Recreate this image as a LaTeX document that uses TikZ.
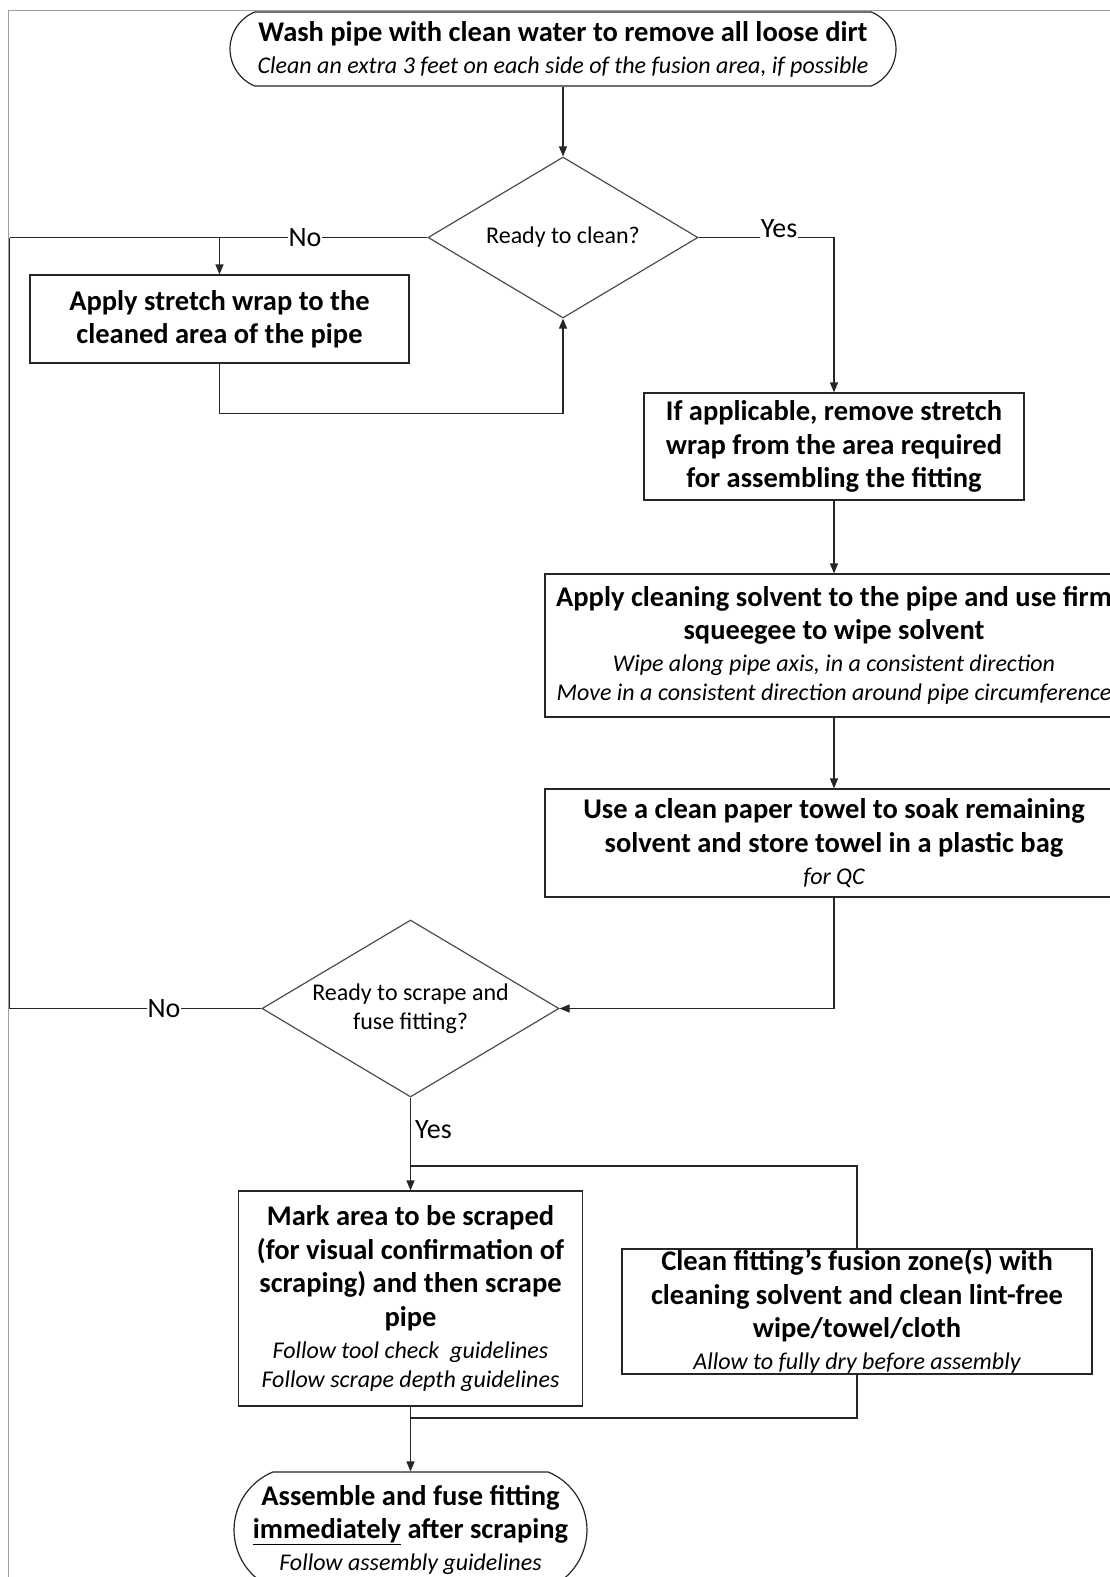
\documentclass[tikz,border=0pt]{standalone}
\usepackage{fontspec}
\setmainfont{Carlito}
\usetikzlibrary{arrows.meta,shapes.geometric,shapes.misc}
\newcommand{\fbold}{\fontsize{28.5}{33.5}\selectfont\bfseries}
\newcommand{\fital}[1]{{\fontsize{24}{29}\selectfont\mdseries\itshape #1}}
\newcommand{\fdia}{\fontsize{24}{28.5}\selectfont}
\newcommand{\flab}{\fontsize{28}{30}\selectfont}
\begin{document}
\begin{tikzpicture}[x=1pt,y=-1pt,
  ln/.style={line width=1.2pt, draw=black!85},
  arr/.style={ln,-{Triangle[length=10pt,width=8pt]}},
  box/.style={draw=black!85, line width=1.2pt, rectangle, align=center, inner sep=0pt, font=\fbold},
  term/.style={draw=black!85, line width=1.2pt, rounded rectangle, rounded rectangle arc length=135, align=center, inner sep=0pt, font=\fbold},
  dec/.style={draw=black!70, line width=1.2pt, diamond, inner sep=0pt},
  dectext/.style={align=center, inner sep=0pt, font=\fdia},
  lab/.style={fill=white, inner sep=1pt, font=\flab},
]
\useasboundingbox (0,0) rectangle (1110,1577);
\clip (0,0) rectangle (1110,1577);
\fill[white] (0,0) rectangle (1110,1577);
\draw[gray!75, line width=1.5pt] (8.5,1577) -- (8.5,10.5) -- (1110,10.5);

\node[term, minimum width=666pt, minimum height=74pt] (top) at (563,49)
  {Wash pipe with clean water to remove all loose dirt\\[-1.5pt]\fital{Clean an extra 3 feet on each side of the fusion area, if possible}};
\node[dec, minimum width=270pt, minimum height=161pt] (d1) at (563,237.5) {};
\node[dectext] (d1t) at (d1.center) {Ready to clean?};
\node[box, minimum width=379pt, minimum height=88pt] (wrap) at (219.5,319)
  {Apply stretch wrap to the\\cleaned area of the pipe};
\node[box, minimum width=380pt, minimum height=107pt] (remove) at (834,446.5)
  {If applicable, remove stretch\\wrap from the area required\\for assembling the fitting};
\node[box, minimum width=578pt, minimum height=143pt] (solv) at (834,645.5)
  {Apply cleaning solvent to the pipe and use firm\\squeegee to wipe solvent\\[-1.5pt]\fital{Wipe along pipe axis, in a consistent direction}\\[-4.5pt]\fital{Move in a consistent direction around pipe circumference}};
\node[box, minimum width=578pt, minimum height=108pt] (towel) at (834,843)
  {Use a clean paper towel to soak remaining\\solvent and store towel in a plastic bag\\[-1.5pt]\fital{for QC}};
\node[dec, minimum width=297pt, minimum height=177pt] (d2) at (410.5,1008.5) {};
\node[dectext] (d2t) at (d2.center) {Ready to scrape and\\fuse fitting?};
\node[box, minimum width=344pt, minimum height=215pt] (mark) at (410.5,1298.5)
  {Mark area to be scraped\\(for visual confirmation of\\scraping) and then scrape\\pipe\\[-1.5pt]\fital{Follow tool check\ \ guidelines}\\[-4.5pt]\fital{Follow scrape depth guidelines}};
\node[box, minimum width=470pt, minimum height=125pt] (cleanf) at (857,1311.5)
  {Clean fitting’s fusion zone(s) with\\cleaning solvent and clean lint-free\\wipe/towel/cloth\\[-1.5pt]\fital{Allow to fully dry before assembly}};
\node[term, minimum width=351pt, minimum height=116pt] (ass) at (410.5,1530)
  {Assemble and fuse fitting\\\underline{immediately} after scraping\\[-1.5pt]\fital{Follow assembly guidelines}};

\coordinate (jw) at (219.5,237.5);
\coordinate (la) at (9.5,237.5);
\coordinate (lb) at (9.5,1008.5);
\coordinate (jy) at (410.5,1166);
\coordinate (jb) at (410.5,1418);

\draw[arr] (top.south) -- (d1.north);
\draw[ln] (d1.west) -- (la);
\draw[arr] (jw) -- (wrap.north);
\draw[ln] (d2.west) -- (lb) -- (la);
\draw[arr] (wrap.south) -- ++(0,50) -| (d1.south);
\draw[arr] (d1.east) -| (remove.north);
\draw[arr] (remove.south) -- (solv.north);
\draw[arr] (solv.south) -- (towel.north);
\draw[arr] (towel.south) |- (d2.east);
\draw[ln] (d2.south) -- (jy);
\draw[arr] (jy) -- (mark.north);
\draw[ln] (jy) -| (cleanf.north);
\draw[ln] (cleanf.south) |- (jb);
\draw[arr] (mark.south) -- (ass.north);

\node[lab] (no1) at (305,237.5) {No};
\node[lab] (no2) at (164,1008.5) {No};
\node[lab] (yes1) at (779,229) {Yes};
\node[font=\flab, inner sep=1pt, anchor=west] (yes2) at (414,1130) {Yes};
\end{tikzpicture}
\end{document}
